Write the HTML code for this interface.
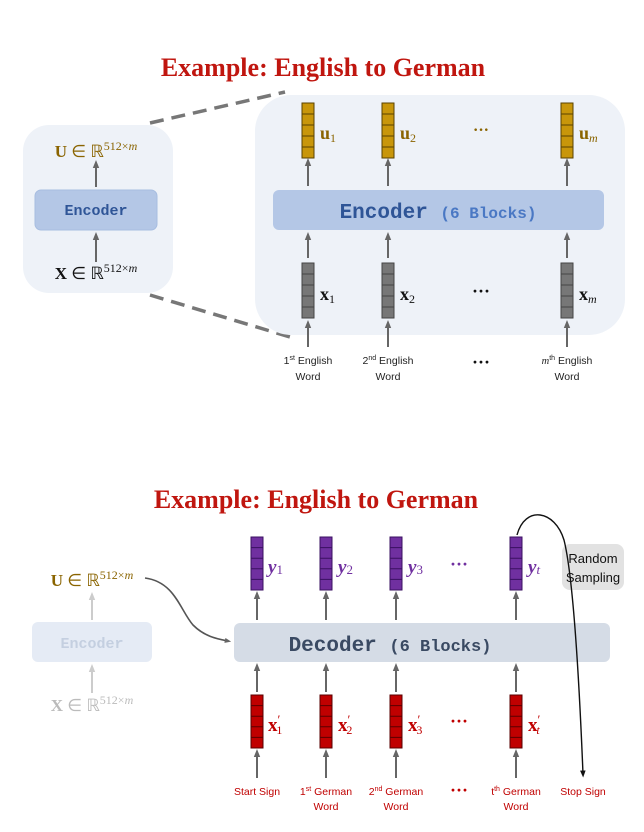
<!DOCTYPE html>
<html><head><meta charset="utf-8"><style>
html,body{margin:0;padding:0;background:#fff;width:644px;height:832px;overflow:hidden}
svg{display:block}
.t{font-family:"Liberation Serif",serif;font-weight:bold;font-size:26px;fill:#c0160f}
.m{font-family:"Liberation Mono",monospace;font-weight:bold}
.s{font-family:"Liberation Sans",sans-serif}
.sr{font-family:"Liberation Serif",serif}
</style></head><body>
<svg width="644" height="832" viewBox="0 0 644 832" xmlns="http://www.w3.org/2000/svg">
<defs>
<marker id="a" viewBox="0 0 10 10" refX="5" refY="5" markerWidth="4" markerHeight="4" orient="auto"><path d="M0,1L10,5L0,9z" fill="#666"/></marker>
<marker id="af" viewBox="0 0 10 10" refX="5" refY="5" markerWidth="4" markerHeight="4" orient="auto"><path d="M0,1L10,5L0,9z" fill="#ccc"/></marker>
<marker id="ab" viewBox="0 0 10 10" refX="5" refY="5" markerWidth="5" markerHeight="5" orient="auto"><path d="M0,1L10,5L0,9z" fill="#111"/></marker>
<g id="vg"><rect x="-6" y="0" width="12" height="55" fill="#777" stroke="#444" stroke-width="1"/><path d="M-6,11h12M-6,22h12M-6,33h12M-6,44h12" stroke="#444" stroke-width="1"/></g>
<g id="vu"><rect x="-6" y="0" width="12" height="55" fill="#c8960a" stroke="#5a4300" stroke-width="1"/><path d="M-6,11h12M-6,22h12M-6,33h12M-6,44h12" stroke="#5a4300" stroke-width="1"/></g>
<g id="vp"><rect x="-6" y="0" width="12" height="53" fill="#7030a0" stroke="#3a1060" stroke-width="1"/><path d="M-6,10.6h12M-6,21.2h12M-6,31.8h12M-6,42.4h12" stroke="#3a1060" stroke-width="1"/></g>
<g id="vr"><rect x="-6" y="0" width="12" height="53" fill="#c00000" stroke="#5a0000" stroke-width="1"/><path d="M-6,10.6h12M-6,21.2h12M-6,31.8h12M-6,42.4h12" stroke="#5a0000" stroke-width="1"/></g>
</defs>

<!-- TOP -->
<text class="t" x="323" y="76" text-anchor="middle">Example: English to German</text>
<line x1="150" y1="123" x2="285" y2="92" stroke="#777" stroke-width="3.5" stroke-dasharray="14,8"/>
<line x1="150" y1="295" x2="290" y2="337" stroke="#777" stroke-width="3.5" stroke-dasharray="14,8"/>
<rect x="23" y="125" width="150" height="168" rx="26" fill="#eef2f8"/>
<text class="sr" x="96" y="157" text-anchor="middle" font-size="17" fill="#8a6400" font-weight="bold">U <tspan font-weight="normal">∈ ℝ</tspan><tspan font-size="12" dy="-7" font-weight="normal">512×<tspan font-style="italic">m</tspan></tspan></text>
<line x1="96" y1="187" x2="96" y2="164" stroke="#666" stroke-width="2" marker-end="url(#a)"/>
<rect x="35" y="190" width="122" height="40" rx="6" fill="#b4c7e6" stroke="#a7bde0"/>
<text class="m" x="96" y="215" text-anchor="middle" font-size="15" fill="#2f5597">Encoder</text>
<line x1="96" y1="262" x2="96" y2="236" stroke="#666" stroke-width="2" marker-end="url(#a)"/>
<text class="sr" x="96" y="279" text-anchor="middle" font-size="17" fill="#111" font-weight="bold">X <tspan font-weight="normal">∈ ℝ</tspan><tspan font-size="12" dy="-7" font-weight="normal">512×<tspan font-style="italic">m</tspan></tspan></text>

<rect x="255" y="95" width="370" height="240" rx="36" fill="#eef2f8"/>
<rect x="273" y="190" width="331" height="40" rx="6" fill="#b4c7e6"/>
<text class="m" x="438" y="218" text-anchor="middle" font-size="21" fill="#2f5597">Encoder <tspan font-size="16" fill="#4a78c4">(6 Blocks)</tspan></text>
<g>
<use href="#vu" x="308" y="103"/><use href="#vu" x="388" y="103"/><use href="#vu" x="567" y="103"/>
<use href="#vg" x="308" y="263"/><use href="#vg" x="388" y="263"/><use href="#vg" x="567" y="263"/>
</g>
<g stroke="#666" stroke-width="2" marker-end="url(#a)">
<line x1="308" y1="186" x2="308" y2="162"/><line x1="388" y1="186" x2="388" y2="162"/><line x1="567" y1="186" x2="567" y2="162"/>
<line x1="308" y1="258" x2="308" y2="236"/><line x1="388" y1="258" x2="388" y2="236"/><line x1="567" y1="258" x2="567" y2="236"/>
<line x1="308" y1="347" x2="308" y2="324"/><line x1="388" y1="347" x2="388" y2="324"/><line x1="567" y1="347" x2="567" y2="324"/>
</g>
<g class="sr" font-size="18" font-weight="bold" fill="#8a6400">
<text x="320" y="139">u<tspan font-size="12" dy="3" font-weight="normal">1</tspan></text>
<text x="400" y="139">u<tspan font-size="12" dy="3" font-weight="normal">2</tspan></text>
<text x="579" y="139">u<tspan font-size="12" dy="3" font-weight="normal" font-style="italic">m</tspan></text>
<text x="481" y="135" text-anchor="middle" font-size="16">···</text>
</g>
<g class="sr" font-size="18" font-weight="bold" fill="#111">
<text x="320" y="300">x<tspan font-size="12" dy="3" font-weight="normal">1</tspan></text>
<text x="400" y="300">x<tspan font-size="12" dy="3" font-weight="normal">2</tspan></text>
<text x="579" y="300">x<tspan font-size="12" dy="3" font-weight="normal" font-style="italic">m</tspan></text>
<text x="481" y="297" text-anchor="middle" font-size="18">···</text>
<text x="481" y="368" text-anchor="middle" font-size="18">···</text>
</g>
<g class="s" font-size="10.5" fill="#222" text-anchor="middle">
<text x="308" y="364">1<tspan font-size="7" dy="-4">st</tspan><tspan dy="4"> English</tspan></text><text x="308" y="380">Word</text>
<text x="388" y="364">2<tspan font-size="7" dy="-4">nd</tspan><tspan dy="4"> English</tspan></text><text x="388" y="380">Word</text>
<text x="567" y="364"><tspan font-style="italic" class="sr">m</tspan><tspan font-size="7" dy="-4">th</tspan><tspan dy="4"> English</tspan></text><text x="567" y="380">Word</text>
</g>

<!-- BOTTOM -->
<text class="t" x="316" y="508" text-anchor="middle">Example: English to German</text>
<text class="sr" x="92" y="586" text-anchor="middle" font-size="17" fill="#8a6400" font-weight="bold">U <tspan font-weight="normal">∈ ℝ</tspan><tspan font-size="12" dy="-7" font-weight="normal">512×<tspan font-style="italic">m</tspan></tspan></text>
<line x1="92" y1="620" x2="92" y2="596" stroke="#ccc" stroke-width="2" marker-end="url(#af)"/>
<rect x="32" y="622" width="120" height="40" rx="6" fill="#e5ebf5"/>
<text class="m" x="92" y="648" text-anchor="middle" font-size="15" fill="#c4cfe0">Encoder</text>
<line x1="92" y1="693" x2="92" y2="668" stroke="#ccc" stroke-width="2" marker-end="url(#af)"/>
<text class="sr" x="92" y="711" text-anchor="middle" font-size="17" fill="#bbb" font-weight="bold">X <tspan font-weight="normal">∈ ℝ</tspan><tspan font-size="12" dy="-7" font-weight="normal">512×<tspan font-style="italic">m</tspan></tspan></text>
<path d="M145,578 C175,582 180,610 193,625 C205,637 218,639 228,641" fill="none" stroke="#555" stroke-width="1.6" marker-end="url(#a)"/>

<rect x="234" y="623" width="376" height="39" rx="6" fill="#d5dce6"/>
<text class="m" x="390" y="651" text-anchor="middle" font-size="21" fill="#3a4a63">Decoder <tspan font-size="17">(6 Blocks)</tspan></text>
<use href="#vp" x="257" y="537"/><use href="#vp" x="326" y="537"/><use href="#vp" x="396" y="537"/><use href="#vp" x="516" y="537"/>
<use href="#vr" x="257" y="695"/><use href="#vr" x="326" y="695"/><use href="#vr" x="396" y="695"/><use href="#vr" x="516" y="695"/>
<g stroke="#666" stroke-width="2" marker-end="url(#a)">
<line x1="257" y1="620" x2="257" y2="595"/><line x1="326" y1="620" x2="326" y2="595"/><line x1="396" y1="620" x2="396" y2="595"/><line x1="516" y1="620" x2="516" y2="595"/>
<line x1="257" y1="692" x2="257" y2="667"/><line x1="326" y1="692" x2="326" y2="667"/><line x1="396" y1="692" x2="396" y2="667"/><line x1="516" y1="692" x2="516" y2="667"/>
<line x1="257" y1="778" x2="257" y2="753"/><line x1="326" y1="778" x2="326" y2="753"/><line x1="396" y1="778" x2="396" y2="753"/><line x1="516" y1="778" x2="516" y2="753"/>
</g>
<g class="sr" font-size="19" font-weight="bold" font-style="italic" fill="#7030a0">
<text x="268" y="573">y<tspan font-size="13" font-style="normal" font-weight="normal" dy="1">1</tspan></text>
<text x="338" y="573">y<tspan font-size="13" font-style="normal" font-weight="normal" dy="1">2</tspan></text>
<text x="408" y="573">y<tspan font-size="13" font-style="normal" font-weight="normal" dy="1">3</tspan></text>
<text x="528" y="573">y<tspan font-size="13" font-weight="normal" dy="1">t</tspan></text>
<text x="459" y="570" text-anchor="middle" font-size="18" font-style="normal">···</text>
</g>
<g class="sr" font-size="19" font-weight="bold" fill="#c00000">
<text x="268" y="731">x<tspan font-size="13" font-weight="normal" dy="-7">′</tspan><tspan font-size="12" font-weight="normal" dx="-4" dy="10">1</tspan></text>
<text x="338" y="731">x<tspan font-size="13" font-weight="normal" dy="-7">′</tspan><tspan font-size="12" font-weight="normal" dx="-4" dy="10">2</tspan></text>
<text x="408" y="731">x<tspan font-size="13" font-weight="normal" dy="-7">′</tspan><tspan font-size="12" font-weight="normal" dx="-4" dy="10">3</tspan></text>
<text x="528" y="731">x<tspan font-size="13" font-weight="normal" dy="-7">′</tspan><tspan font-size="12" font-weight="normal" font-style="italic" dx="-4" dy="10">t</tspan></text>
<text x="459" y="727" text-anchor="middle" font-size="18">···</text>
<text x="459" y="796" text-anchor="middle" font-size="18">···</text>
</g>
<g class="s" font-size="10.5" fill="#c00000" text-anchor="middle">
<text x="257" y="795">Start Sign</text>
<text x="326" y="795">1<tspan font-size="7" dy="-4">st</tspan><tspan dy="4"> German</tspan></text><text x="326" y="810">Word</text>
<text x="396" y="795">2<tspan font-size="7" dy="-4">nd</tspan><tspan dy="4"> German</tspan></text><text x="396" y="810">Word</text>
<text x="516" y="795">t<tspan font-size="7" dy="-4">th</tspan><tspan dy="4"> German</tspan></text><text x="516" y="810">Word</text>
<text x="583" y="795">Stop Sign</text>
</g>
<rect x="562" y="544" width="62" height="46" rx="8" fill="#e2e2e2"/>
<text class="s" x="593" y="563" text-anchor="middle" font-size="13" fill="#111">Random</text>
<text class="s" x="593" y="582" text-anchor="middle" font-size="13" fill="#111">Sampling</text>
<path d="M517,535 C525,505 555,510 564,540 C574,580 580,700 583,774" fill="none" stroke="#111" stroke-width="1.4" marker-end="url(#ab)"/>
</svg>
</body></html>
